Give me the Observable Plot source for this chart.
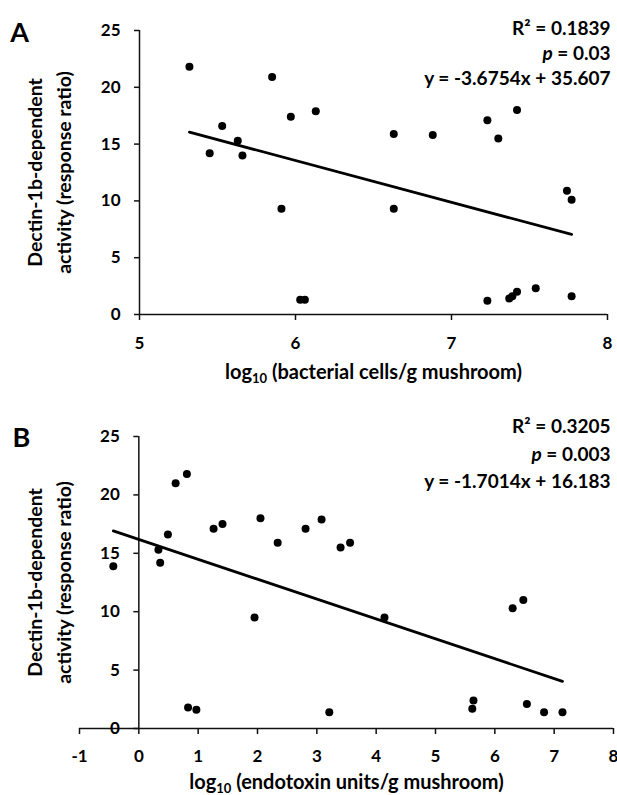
<!DOCTYPE html>
<html>
<head>
<meta charset="utf-8">
<script src="https://cdn.jsdelivr.net/npm/d3@7"></script>
<script src="https://cdn.jsdelivr.net/npm/@observablehq/plot@0.6"></script>
<style>
  body { margin: 0; background: #fff; }
  #chart { width: 617px; }
  #chart svg { display: block; }
</style>
</head>
<body>
<div id="chart"></div>
<script>
// ---- Data ----
// Panel A: log10 bacterial cells/g mushroom vs Dectin-1b-dependent activity
const bactX = [5.32, 5.85, 5.53, 5.45, 5.63, 5.66, 5.97, 6.13, 6.63, 6.88, 7.23, 7.30, 7.42, 7.74, 7.77,
               5.91, 6.63, 6.03, 6.06, 7.23, 7.37, 7.39, 7.42, 7.54, 7.77];
const bactY = [21.8, 20.9, 16.6, 14.2, 15.3, 14.0, 17.4, 17.9, 15.9, 15.8, 17.1, 15.5, 18.0, 10.9, 10.1,
               9.3, 9.3, 1.3, 1.3, 1.2, 1.4, 1.6, 2.0, 2.3, 1.6];
// Panel B: log10 endotoxin units/g mushroom vs Dectin-1b-dependent activity
const endoX = [-0.43, 0.33, 0.36, 0.49, 0.62, 0.81, 1.26, 1.41, 2.05, 2.34, 2.81, 3.08, 3.40, 3.56,
               1.95, 4.14, 6.48, 6.30, 0.83, 0.97, 3.21, 5.62, 5.64, 6.54, 6.83, 7.14];
const endoY = [13.9, 15.3, 14.2, 16.6, 21.0, 21.8, 17.1, 17.5, 18.0, 15.9, 17.1, 17.9, 15.5, 15.9,
               9.5, 9.5, 11.0, 10.3, 1.8, 1.6, 1.4, 1.7, 2.4, 2.1, 1.4, 1.4];

// Regression fits
const slopes = [-3.6754, -1.7014];
const intercepts = [35.607, 16.183];
const r2Values = ["0.1839", "0.3205"];
const pValues = ["0.03", "0.003"];

// Ticks and labels
const xTicksA = [5, 6, 7, 8];
const xTicksB = [-1, 0, 1, 2, 3, 4, 5, 6, 7, 8];
const yTicks = [0, 5, 10, 15, 20, 25];
const panelLetters = ["A", "B"];
const xTitles = ["log10 (bacterial cells/g mushroom)", "log10 (endotoxin units/g mushroom)"];
const yTitle = ["Dectin-1b-dependent", "activity (response ratio)"];

function fmtEq(s, b) {
  return `y = ${s}x + ${b}`;
}

function panel(o) {
  const pts = o.xs.map((x, i) => ({x, y: o.ys[i]}));
  const ext = d3.extent(o.xs);
  const fit = ext.map(x => ({x, y: o.slope * x + o.intercept}));
  const ann = [`R² = ${o.r2}`, `p = ${o.p}`, fmtEq(o.slope, o.intercept)].join("\n");
  const svg = Plot.plot({
    width: 617,
    height: o.height,
    marginTop: o.mt, marginBottom: o.mb, marginLeft: o.ml, marginRight: o.mr,
    style: {fontFamily: "Lato, 'Open Sans', sans-serif", fontSize: "17px", fontWeight: "bold", color: "#000", background: "#fff"},
    x: {domain: o.xDomain},
    y: {domain: [0, 25]},
    marks: [
      Plot.ruleY([0], {stroke: "#111", strokeWidth: 1.5}),
      Plot.ruleX([o.yAxisAt], {stroke: "#111", strokeWidth: 1.5}),
      Plot.axisX({ticks: o.xTicks, tickFormat: d => String(d), tickSize: 6, tickPadding: o.xPad, strokeWidth: 1.5, stroke: "#111", label: null, fontSize: 17}),
      Plot.axisY({x: o.yAxisAt, ticks: yTicks, tickFormat: d => String(d), tickSize: 5, tickPadding: 14, strokeWidth: 1.5, stroke: "#111", label: null, fontSize: 17}),
      Plot.line(fit, {x: "x", y: "y", stroke: "#000", strokeWidth: 2.8}),
      Plot.dot(pts, {x: "x", y: "y", r: 4, fill: "#000"}),
      Plot.text([o.letter], {text: d => d, frameAnchor: "top-left", dx: o.letterDx, dy: o.letterDy, textAnchor: "middle", lineAnchor: "middle", fontSize: 27}),
      Plot.text([ann], {text: d => d, frameAnchor: "top-right", dx: o.annDx, dy: o.annDy, textAnchor: "end", lineAnchor: "top", lineHeight: o.annLH, fontSize: 19}),
      Plot.text([yTitle.join("\n")], {text: d => d, frameAnchor: "left", dx: o.yTitleDx, rotate: -90, textAnchor: "middle", lineAnchor: "middle", lineHeight: 1.45, fontSize: 19.5}),
      Plot.text([o.xTitle], {text: d => d, frameAnchor: "bottom", dy: o.xTitleDy, textAnchor: "middle", lineAnchor: "middle", fontSize: 20})
    ]
  });
  // rich text: italic p, subscript 10
  d3.select(svg).selectAll("text, tspan").each(function () {
    if (this.children.length) return;
    const t = this.textContent;
    const sel = d3.select(this);
    if (t.startsWith("p = ")) {
      sel.text("");
      sel.append("tspan").attr("font-style", "italic").text("p");
      sel.append("tspan").text(t.slice(1));
    } else if (t.startsWith("log10")) {
      sel.text("");
      sel.append("tspan").text("log");
      sel.append("tspan").attr("font-size", 13).attr("dy", 4).text("10");
      sel.append("tspan").attr("dy", -4).text(t.slice(5));
    }
  });
  return svg;
}

const chart = document.getElementById("chart");
chart.append(panel({
  xs: bactX, ys: bactY, slope: slopes[0], intercept: intercepts[0], r2: r2Values[0], p: pValues[0],
  xDomain: [5, 8], xTicks: xTicksA, yAxisAt: 5, letter: panelLetters[0], xTitle: xTitles[0],
  height: 390, mt: 30, mb: 76, ml: 139, mr: 10, xPad: 16,
  letterDx: -120, letterDy: 3, annDx: 3, annDy: -13, annLH: 1.32, yTitleDx: -92, xTitleDy: 58
}));
chart.append(panel({
  xs: endoX, ys: endoY, slope: slopes[1], intercept: intercepts[1], r2: r2Values[1], p: pValues[1],
  xDomain: [-1, 8], xTicks: xTicksB, yAxisAt: 0, letter: panelLetters[1], xTitle: xTitles[1],
  height: 405, mt: 46, mb: 67, ml: 79, mr: 4, xPad: 15,
  letterDx: -58, letterDy: 2, annDx: -3, annDy: -23, annLH: 1.45, yTitleDx: -32, xTitleDy: 54
}));
</script>
</body>
</html>
